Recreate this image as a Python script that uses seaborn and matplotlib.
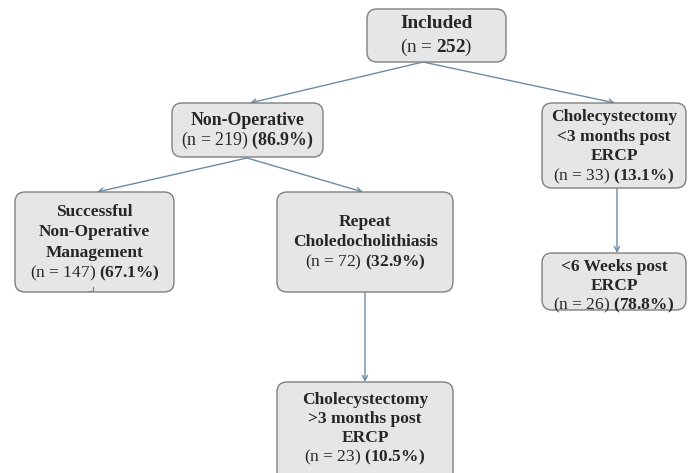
import matplotlib
matplotlib.use("Agg")
import matplotlib.pyplot as plt
from matplotlib.patches import FancyBboxPatch
import seaborn as sns

# ---- data ----
titles = ["Included", "Non-Operative", "Cholecystectomy\n<3 months post\nERCP",
          "Successful\nNon-Operative\nManagement", "Repeat\nCholedocholithiasis",
          "<6 Weeks post\nERCP", "Cholecystectomy\n>3 months post\nERCP"]
counts = [252, 219, 33, 147, 72, 26, 23]
percents = [None, "86.9", "13.1", "67.1", "32.9", "78.8", "10.5"]
edges = [(0, 1), (0, 2), (1, 3), (1, 4), (4, 6), (2, 5)]

# ---- layout (pixels, origin top-left) ----
boxes = [(367, 9, 506, 62), (172, 103, 323, 157), (542, 103, 686, 188),
         (15, 192, 174, 292), (277, 192, 453, 292), (542, 253, 686, 310),
         (277, 382, 453, 490)]
first_line_y = [23, 120, 117, 212, 222, 267, 400]
line_gap = [24, 20, 19.7, 20.3, 20, 19, 19]
font_sizes = [13.8, 12.8, 12.5, 12.5, 12.5, 12.5, 12.5]
arrow_pts = {(0, 1): ((423, 62), (250, 103)), (0, 2): ((423, 62), (615, 103)),
             (1, 3): ((247, 158), (97, 192)), (1, 4): ((247, 158), (363, 192)),
             (4, 6): ((365, 292), (365, 382)), (2, 5): ((617, 188), (617, 253))}

sns.set_theme(style="white")
plt.rcParams["font.family"] = ["Liberation Serif", "DejaVu Serif"]
plt.rcParams["mathtext.fontset"] = "custom"
plt.rcParams["mathtext.rm"] = "Liberation Serif"
plt.rcParams["mathtext.bf"] = "Liberation Serif:bold"

W, H = 688, 473
fig = plt.figure(figsize=(W / 100, H / 100), dpi=100)
ax = fig.add_axes([0, 0, 1, 1])
ax.set_xlim(0, W)
ax.set_ylim(H, 0)
ax.axis("off")

arrow_color = "#6c8ca3"
for e in edges:
    (x0, y0), (x1, y1) = arrow_pts[e]
    ax.annotate("", xy=(x1, y1), xytext=(x0, y0),
                arrowprops=dict(arrowstyle="->", color=arrow_color, lw=1.0,
                                mutation_scale=9, shrinkA=0, shrinkB=0), zorder=1)

for i, (x0, y0, x1, y1) in enumerate(boxes):
    r = 10
    p = FancyBboxPatch((x0 + r, y0 + r), (x1 - x0) - 2 * r, (y1 - y0) - 2 * r,
                       boxstyle=f"round,pad={r},rounding_size={r}",
                       facecolor="#e6e6e6", edgecolor="#808080", lw=1.0, zorder=2)
    ax.add_patch(p)
    cx = (x0 + x1) / 2
    fs = font_sizes[i]
    lines = titles[i].split("\n")
    y = first_line_y[i]
    for ln in lines:
        ax.text(cx, y, ln, ha="center", va="center", fontsize=fs,
                fontweight="bold", zorder=3)
        y += line_gap[i]
    if percents[i] is None:
        s = r"(n = $\mathbf{%d}$)" % counts[i]
    else:
        s = r"(n = %d) $\mathbf{(%s\%%)}$" % (counts[i], percents[i])
    ax.text(cx, y, s, ha="center", va="center", fontsize=fs, zorder=3)

# small stray arrow tick below the "Successful" box, as in the source figure
ax.plot([93, 93, 89], [287, 291, 291], color=arrow_color, lw=0.9, zorder=4)

fig.savefig("out.png", dpi=100, facecolor="white")
